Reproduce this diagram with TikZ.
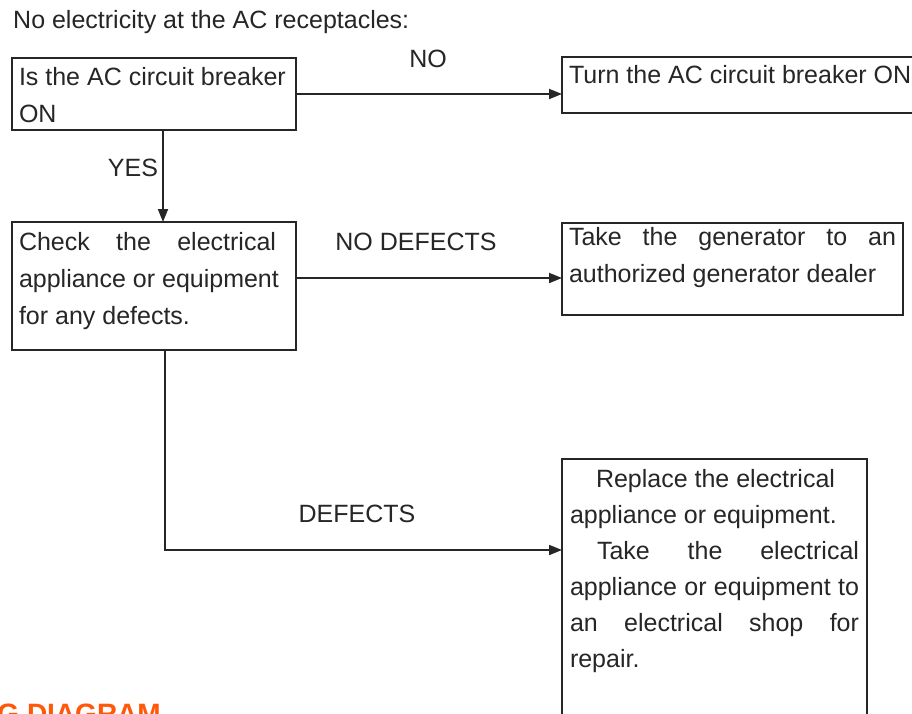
\documentclass[tikz,border=0pt]{standalone}
\usepackage{fontspec}
\setmainfont{Liberation Sans}
\usepackage{xcolor}
\usepackage{tikz}
\usetikzlibrary{arrows.meta}

\definecolor{inkgray}{RGB}{38,38,38}
\definecolor{diagorange}{RGB}{255,88,8}

\begin{document}
\begin{tikzpicture}[x=1pt,y=-1pt,
  >={Triangle[length=13pt,width=10pt]},
  box/.style={draw=inkgray,line width=1.8pt,anchor=north west,outer sep=0pt,align=justify,
    inner ysep=0pt,inner xsep=7pt,text=inkgray,font=\fontsize{25}{37}\selectfont},
  lbl/.style={anchor=base,inner sep=0pt,text=inkgray,font=\fontsize{25}{30}\selectfont},
  link/.style={line width=1.8pt,draw=inkgray}]
  \useasboundingbox (0,0) rectangle (912,713);
  \fill[white] (0,0) rectangle (912,713);

  % Title
  \node[lbl,anchor=base west] (title) at (13,28) {No electricity at the AC receptacles:};

  % Breaker question
  \node[box,text width=270pt,text height=27pt,text depth=45pt] (brk) at (12,58)
    {Is the AC circuit breaker\\ON};

  % Turn breaker on
  \node[box,text width=360pt,text height=26pt,text depth=30pt] (turn) at (562,57)
    {Turn the AC circuit breaker ON};

  % Check appliance
  \node[box,text width=270pt,text height=28pt,text depth=100pt] (chk) at (12,222)
    {\makebox[257pt][s]{Check the electrical}\\appliance or equipment\\for any defects.};

  % Dealer
  \node[box,text width=327pt,text height=22pt,text depth=70pt] (dlr) at (562,223)
    {Take the generator to an\linebreak authorized generator dealer};

  % Replace or repair
  \node[box,inner xsep=8pt,text width=289pt,text height=28pt,text depth=280pt,
    font=\fontsize{25}{36}\selectfont] (rep) at (562,459)
    {\hspace*{26pt}Replace the electrical\\appliance or equipment.\\\hspace*{27pt}Take the electrical\linebreak
     appliance or equipment to\linebreak an electrical shop for\linebreak repair.};

  % NO
  \draw[link,->] (brk.east) -- (brk.east -| turn.west);
  \node[lbl] (no) at (428,67) {NO};

  % YES
  \draw[link,->] ([xshift=9pt]brk.south) -- ([xshift=9pt]brk.south |- chk.north);
  \node[lbl] (yes) at (133,176) {YES};

  % NO DEFECTS
  \draw[link,->] ([yshift=8pt]chk.east) -- ([yshift=8pt]chk.east -| dlr.west);
  \node[lbl] (nodef) at (416,250) {NO DEFECTS};

  % DEFECTS
  \coordinate (dfy) at (0,550);
  \draw[link,->] ([xshift=11pt]chk.south) |- (dfy -| rep.west);
  \node[lbl] (def) at (357,522) {DEFECTS};

  % Cut-off heading
  \node[anchor=north east,inner sep=0pt,text=diagorange,font=\bfseries\fontsize{28}{30}\selectfont] (wdiag) at (161,704)
    {WIRING DIAGRAM};
\end{tikzpicture}
\end{document}
